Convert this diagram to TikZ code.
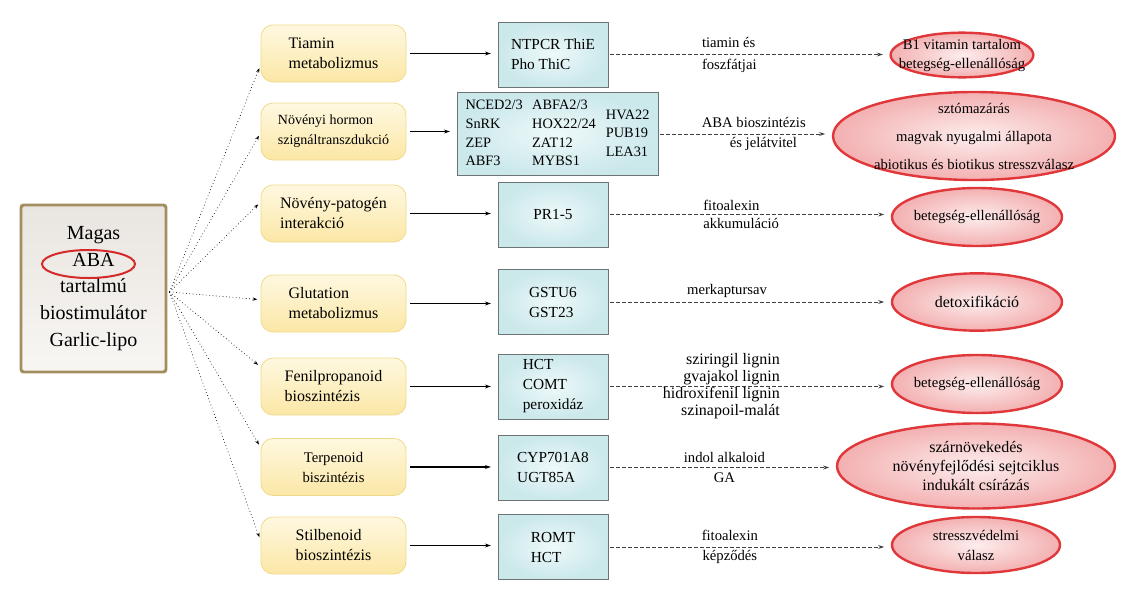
\documentclass[tikz,border=0pt]{standalone}
\usepackage{fontspec}
\setmainfont{Liberation Serif}
\usetikzlibrary{calc, arrows.meta, positioning, shapes.geometric}
\usepackage{xcolor}

\definecolor{srcedge}{HTML}{A38E5F}
\definecolor{srctop}{HTML}{E9E5E0}
\definecolor{srcbot}{HTML}{F8F6F3}
\definecolor{ringred}{HTML}{D42A2A}
\definecolor{yeledge}{HTML}{F1D98A}
\definecolor{yeltop}{HTML}{FEF8E0}
\definecolor{yelbot}{HTML}{FBE7A6}
\definecolor{cyanedge}{HTML}{6C7475}
\definecolor{cyanlight}{HTML}{EEF9FA}
\definecolor{cyanfill}{HTML}{CBE8EB}
\definecolor{rededge}{HTML}{E0373A}
\definecolor{redlight}{HTML}{FDEDED}
\definecolor{redfill}{HTML}{F3B0B1}
\definecolor{dashgray}{HTML}{404040}

\begin{document}
\begin{tikzpicture}[x=0.75pt, y=-0.75pt,
    srcbox/.style={draw=srcedge, line width=2.2pt, rounded corners=2pt,
                   top color=srctop, bottom color=srcbot,
                   minimum width=108.75pt, minimum height=125.25pt,
                   align=center, font=\fontsize{15}{20}\selectfont},
    ring/.style={ellipse, draw=ringred, line width=1.5pt,
                 minimum width=69.75pt, minimum height=21pt, inner sep=0pt},
    pathbox/.style={draw=yeledge, line width=0.6pt, rounded corners=9pt,
                    top color=yeltop, bottom color=yelbot,
                    minimum width=108.75pt, minimum height=42.75pt,
                    align=left, font=\fontsize{12}{15}\selectfont},
    genebox/.style={draw=cyanedge, line width=0.7pt,
                    inner color=cyanlight, outer color=cyanfill,
                    minimum width=82.5pt, minimum height=48.75pt,
                    align=left, font=\fontsize{11.5}{15}\selectfont},
    effect/.style={ellipse, draw=rededge, line width=1.8pt,
                   inner color=redlight, outer color=redfill,
                   inner xsep=-11pt, inner ysep=-3.5pt,
                   align=center, font=\fontsize{11}{14.25}\selectfont},
    lbl/.style={inner sep=1pt, font=\fontsize{11}{13.5}\selectfont},
    fan/.style={-{Stealth[length=3.5pt,width=2.5pt]}, dotted, line width=0.5pt,
                shorten >=2.5pt},
    arr/.style={-{Stealth[length=4.5pt,width=3pt]}, line width=0.8pt,
                shorten <=3pt, shorten >=5pt},
    dashline/.style={-{Stealth[length=4.5pt,width=3pt]}, draw=dashgray,
                     line width=0.6pt, dash pattern=on 2.5pt off 2pt,
                     shorten <=1.5pt, shorten >=5pt}
  ]
    \useasboundingbox (0,0) rectangle (1129,604);

    % source
    \node[srcbox] (src) at (93.5,288.5)
      {Magas\\ABA\\tartalmú\\biostimulátor\\Garlic-lipo};
    \node[ring] (abaring) at (88.5,264) {};
    \coordinate (hub) at ($(src.east)+(2,3.5)$);

    % pathways
    \node[pathbox] (pw1) at (333.5,53.5)  {Tiamin\\metabolizmus};
    \node[pathbox, font=\fontsize{10.5}{15}\selectfont] (pw2) at (333.5,131.5)
      {Növényi hormon\\szignáltranszdukció};
    \node[pathbox] (pw3) at (333.5,213.5) {Növény-patogén\\interakció};
    \node[pathbox] (pw4) at (333.5,303.5) {Glutation\\metabolizmus};
    \node[pathbox] (pw5) at (333.5,386.5) {Fenilpropanoid\\bioszintézis};
    \node[pathbox, align=center, font=\fontsize{11}{15}\selectfont] (pw6) at (333.5,467)
      {Terpenoid\\biszintézis};
    \node[pathbox] (pw7) at (333.5,545.5) {Stilbenoid\\bioszintézis};

    % genes
    \node[genebox] (gn1) at (553,54.5) {NTPCR ThiE\\Pho ThiC};
    \node[genebox, minimum width=150.75pt, minimum height=61.5pt, inner xsep=2pt,
          font=\fontsize{10.75}{14}\selectfont] (gn2) at (557.5,134)
      {\begin{tabular}[c]{@{}l@{\hspace{7pt}}l@{}}
         NCED2/3 & ABFA2/3\\ SnRK & HOX22/24\\ ZEP & ZAT12\\ ABF3 & MYBS1
       \end{tabular}\hspace{7.5pt}%
       \begin{tabular}[c]{@{}l@{}}HVA22\\ PUB19\\ LEA31\end{tabular}};
    \node[genebox] (gn3) at (553,214.5) {PR1-5};
    \node[genebox] (gn4) at (553,302)   {GSTU6\\GST23};
    \node[genebox] (gn5) at (553,386.5) {HCT\\COMT\\peroxidáz};
    \node[genebox] (gn6) at (553,467.5) {CYP701A8\\UGT85A};
    \node[genebox] (gn7) at (553,547)   {ROMT\\HCT};

    % effects
    \node[effect, minimum width=107pt, minimum height=33.5pt] (ef1) at (962,55)
      {B1 vitamin tartalom\\betegség-ellenállóság};
    \node[effect, minimum width=211.5pt, minimum height=66pt,
          font=\fontsize{11}{21}\selectfont] (ef2) at (974,136)
      {sztómazárás\\magvak nyugalmi állapota\\abiotikus és biotikus stresszválasz};
    \node[effect, minimum width=127.5pt, minimum height=43.5pt] (ef3) at (977,217)
      {betegség-ellenállóság};
    \node[effect, minimum width=127.5pt, minimum height=43pt,
          font=\fontsize{12}{14}\selectfont] (ef4) at (977,302) {detoxifikáció};
    \node[effect, minimum width=127.5pt, minimum height=43.5pt] (ef5) at (977,384)
      {betegség-ellenállóság};
    \node[effect, minimum width=208.5pt, minimum height=63.75pt,
          font=\fontsize{12}{14.5}\selectfont] (ef6) at (976,466)
      {szárnövekedés\\növényfejlődési sejtciklus\\indukált csírázás};
    \node[effect, minimum width=126pt, minimum height=42pt,
          font=\fontsize{11}{15}\selectfont] (ef7) at (976,545)
      {stresszvédelmi\\válasz};

    % connectors
    \foreach \i/\a in {1/189, 2/181, 3/171, 4/177, 5/165, 6/165, 7/176}
      \draw[fan] (hub) -- (pw\i.\a);
    \foreach \i in {1,...,7}
      \draw[arr] (pw\i.east) -- (pw\i.east -| gn\i.west);

    \draw[dashline] (gn1.east) -- (gn1.east -| ef1.west)
      node[lbl, pos=.43, align=left] (lb1) {tiamin és\\[3pt]foszfátjai};
    \draw[dashline] (gn2.east) -- (gn2.east -| ef2.west)
      node[lbl, pos=.55, align=left] (lb2) {ABA bioszintézis\\[1.5pt]\hspace*{21pt}és jelátvitel};
    \draw[dashline] (gn3.east) -- (gn3.east -| ef3.west)
      node[lbl, pos=.47, align=left] (lb3) {fitoalexin\\akkumuláció};
    \draw[dashline] (gn4.east) -- (gn4.east -| ef4.west)
      node[lbl, pos=.42, above=2pt] (lb4) {merkaptursav};
    \draw[dashline] (gn5.east) -- (gn5.east -| ef5.west)
      node[lbl, pos=.40, align=right, font=\fontsize{12}{12.75}\selectfont] (lb5)
      {sziringil lignin\\gvajakol lignin\\hidroxifenil lignin\\szinapoil-malát};
    \draw[dashline] (gn6.east) -- (gn6.east -| ef6.west)
      node[lbl, pos=.51, align=center] (lb6) {indol alkaloid\\[1.5pt]GA};
    \draw[dashline] (gn7.east) -- (gn7.east -| ef7.west)
      node[lbl, pos=.43, align=center] (lb7) {fitoalexin\\[1.5pt]képződés};
  \end{tikzpicture}
\end{document}
